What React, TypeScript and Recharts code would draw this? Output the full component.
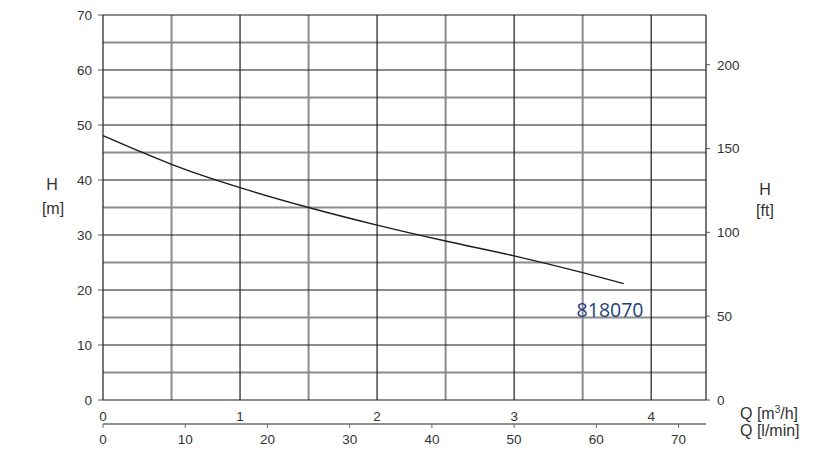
import React from "react"
import {
  ComposedChart, Line, XAxis, YAxis, ReferenceLine, ReferenceDot,
} from "recharts"

// pump curve 818070, Q in m3/h, H in m
const flowM3h = [0, 0.25, 0.5, 0.75, 1, 1.5, 2, 2.5, 3, 3.5, 3.8]
const headM = [48.05, 45.4, 42.85, 40.6, 38.6, 35.0, 31.8, 28.9, 26.2, 23.15, 21.15]

const qTicks = [0, 1, 2, 3, 4]
const lminTicks = [0, 10, 20, 30, 40, 50, 60, 70]
const hTicks = [0, 10, 20, 30, 40, 50, 60, 70]
const ftTicks = [0, 50, 100, 150, 200]

const majorX = [0, 1, 2, 3, 4, 4.4]
const minorX = [0.5, 1.5, 2.5, 3.5]
const majorY = [0, 10, 20, 30, 40, 50, 60, 70]
const minorY = [5, 15, 25, 35, 45, 55, 65]

const Q_MAX = 4.4
const H_MAX = 70
const M_TO_FT = 3.2808
const M3H_TO_LMIN = 1000 / 60

const FONT = "'Liberation Sans', Arial, sans-serif"
const TEXT = "#333"
const BLACK = "#1c1c1c"
const GRAY = "#8c8c8c"

const data = flowM3h.map((q, i) => ({ q, h: headM[i] }))

const tick = { fontSize: 13.5, fill: TEXT, fontFamily: FONT }

// axis ids sort alphabetically: "a_q" sits next to the plot, "b_lmin" below it
export default function App() {
  const label = (text: React.ReactNode, left: number, top: number, align: "center" | "left" = "center") => (
    <div style={{
      position: "absolute", left, top, width: align === "center" ? 40 : 90,
      marginLeft: align === "center" ? -20 : 0, textAlign: align,
      fontFamily: FONT, fontSize: 16, color: TEXT, lineHeight: "20px",
    }}>{text}</div>
  )

  return (
    <div style={{ position: "absolute", left: 0, top: 0, width: 836, height: 453, background: "#fff" }}>
      <ComposedChart width={836} height={453} data={data}
        margin={{ top: 15, right: 0, left: 0, bottom: 0 }}>
        <XAxis xAxisId="a_q" dataKey="q" type="number" domain={[0, Q_MAX]} ticks={qTicks}
          axisLine={false} tickLine={false} tickSize={6} tickMargin={5} height={24} tick={tick}
          allowDataOverflow interval={0} />
        <XAxis xAxisId="b_lmin" dataKey="q" type="number" domain={[0, Q_MAX]}
          ticks={lminTicks.map((v) => v / M3H_TO_LMIN)}
          tickFormatter={(v: number) => String(Math.round(v * M3H_TO_LMIN))}
          axisLine={{ stroke: "#6a6a6a", strokeWidth: 1.5 }} tickLine={{ stroke: "#6a6a6a" }}
          tickSize={4} tickMargin={6} height={29} tick={tick} allowDataOverflow interval={0} />
        <YAxis yAxisId="m" type="number" domain={[0, H_MAX]} ticks={hTicks} width={103}
          axisLine={false} tickLine={{ stroke: "#555" }} tickSize={5} tickMargin={6} tick={tick}
          allowDataOverflow />
        <YAxis yAxisId="ft" orientation="right" type="number" domain={[0, H_MAX * M_TO_FT]}
          ticks={ftTicks} width={130} axisLine={false} tickLine={{ stroke: "#555" }}
          tickSize={4} tickMargin={7} tick={tick} allowDataOverflow />

        {minorY.map((v) => (
          <ReferenceLine key={"my" + v} xAxisId="a_q" yAxisId="m" y={v} stroke={GRAY} strokeWidth={2} />
        ))}
        {minorX.map((v) => (
          <ReferenceLine key={"mx" + v} xAxisId="a_q" yAxisId="m" x={v} stroke={GRAY} strokeWidth={2} />
        ))}
        {majorY.map((v) => (
          <ReferenceLine key={"My" + v} xAxisId="a_q" yAxisId="m" y={v} stroke={BLACK} strokeWidth={1.2} />
        ))}
        {majorX.map((v) => (
          <ReferenceLine key={"Mx" + v} xAxisId="a_q" yAxisId="m" x={v} stroke={BLACK} strokeWidth={1.2} />
        ))}

        <Line xAxisId="a_q" yAxisId="m" dataKey="h" type="monotone" stroke={BLACK}
          strokeWidth={1.4} dot={false} isAnimationActive={false} />

        <ReferenceDot xAxisId="a_q" yAxisId="m" x={3.7} y={16.4} r={0} stroke="none"
          label={{ value: "818070", position: "center", fill: "#1f3f78", fontSize: 19.5, fontFamily: "'Open Sans', sans-serif" }} />
      </ComposedChart>

      {label("H", 52, 175)}
      {label("[m]", 53, 199)}
      {label("H", 765, 180)}
      {label("[ft]", 765, 201)}
      {label(<span>Q [m<sup style={{ fontSize: 10, verticalAlign: "6px" }}>3</sup>/h]</span>, 740, 400, "left")}
      {label("Q [l/min]", 740, 421, "left")}
    </div>
  )
}
